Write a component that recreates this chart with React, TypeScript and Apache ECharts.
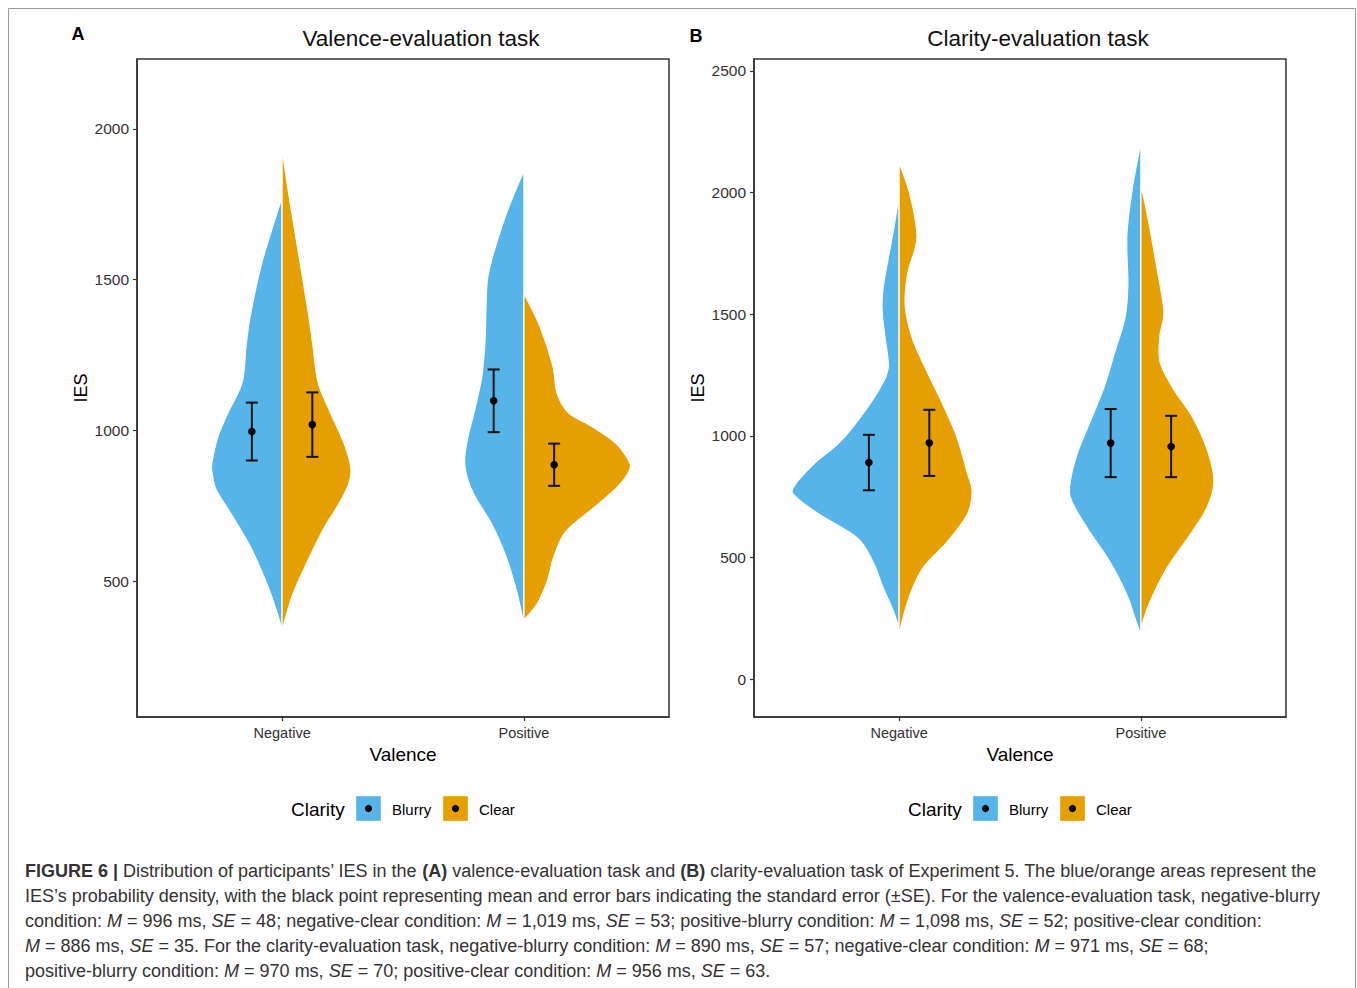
import React, { useEffect, useRef } from "react";
import * as echarts from "echarts";

const valenceCats = ["Negative", "Positive"];
const clarityLevels = ["Blurry", "Clear"];
const panelTitles = ["Valence-evaluation task", "Clarity-evaluation task"];
const panelLetters = ["A", "B"];
const yTicksA = [500, 1000, 1500, 2000];
const yTicksB = [0, 500, 1000, 1500, 2000, 2500];

// Density profiles: [IES value, half-width in category units], top to bottom
const aNegBlurry = [[1773, 0], [1558, 0.083], [1378, 0.132], [1279, 0.149], [1159, 0.165], [1060, 0.223], [980, 0.265], [894, 0.29], [861, 0.29], [804, 0.273], [728, 0.215], [615, 0.132], [505, 0.07], [416, 0.029], [340, 0]];
const aNegClear = [[1933, 0], [1777, 0.029], [1558, 0.074], [1392, 0.108], [1279, 0.128], [1159, 0.149], [1060, 0.199], [947, 0.261], [861, 0.285], [781, 0.252], [671, 0.17], [562, 0.103], [449, 0.041], [335, 0]];
const aPosBlurry = [[1861, 0], [1733, 0.066], [1624, 0.112], [1511, 0.149], [1402, 0.157], [1292, 0.161], [1179, 0.174], [1070, 0.203], [960, 0.236], [881, 0.244], [794, 0.211], [681, 0.128], [572, 0.07], [462, 0.029], [355, 0]];
const aPosClear = [[1455, 0], [1345, 0.066], [1212, 0.12], [1126, 0.136], [1060, 0.182], [1013, 0.281], [960, 0.376], [904, 0.43], [871, 0.438], [814, 0.389], [738, 0.281], [661, 0.17], [572, 0.12], [505, 0.099], [429, 0.058], [370, 0]];

const bNegBlurry = [[1984, 0], [1814, 0.029], [1609, 0.066], [1510, 0.07], [1403, 0.058], [1280, 0.045], [1197, 0.079], [1086, 0.153], [975, 0.244], [881, 0.356], [786, 0.438], [745, 0.422], [675, 0.327], [581, 0.174], [482, 0.108], [375, 0.066], [293, 0.029], [211, 0]];
const bNegClear = [[2123, 0], [1991, 0.045], [1814, 0.074], [1674, 0.037], [1539, 0.025], [1403, 0.054], [1263, 0.116], [1127, 0.182], [992, 0.24], [852, 0.281], [770, 0.302], [675, 0.281], [564, 0.199], [457, 0.099], [346, 0.045], [235, 0.012], [169, 0]];
const bPosBlurry = [[2205, 0], [2032, 0.033], [1826, 0.058], [1621, 0.054], [1485, 0.066], [1345, 0.108], [1210, 0.149], [1074, 0.203], [934, 0.261], [799, 0.294], [729, 0.285], [622, 0.223], [482, 0.128], [346, 0.058], [252, 0.025], [182, 0]];
const bPosClear = [[2032, 0], [1896, 0.029], [1691, 0.066], [1510, 0.095], [1415, 0.079], [1304, 0.079], [1197, 0.132], [1074, 0.215], [934, 0.277], [811, 0.302], [704, 0.273], [593, 0.203], [457, 0.108], [317, 0.037], [235, 0.008], [211, 0]];

// Means and error-bar ends; order: neg-blurry, neg-clear, pos-blurry, pos-clear
const aMeans = [996, 1019, 1098, 886];
const aLow = [900, 912, 994, 816];
const aHigh = [1092, 1126, 1202, 956];
const bMeans = [890, 971, 970, 956];
const bLow = [776, 835, 830, 830];
const bHigh = [1004, 1107, 1110, 1082];

const captionLines = [
  "{b|FIGURE 6 |}{n| Distribution of participants’ IES in the }{b|(A)}{n| valence-evaluation task and }{b|(B)}{n| clarity-evaluation task of Experiment 5. The blue/orange areas represent the}",
  "{n|IES’s probability density, with the black point representing mean and error bars indicating the standard error (±SE). For the valence-evaluation task, negative-blurry}",
  "{n|condition: }{i|M}{n| = 996 ms, }{i|SE}{n| = 48; negative-clear condition: }{i|M}{n| = 1,019 ms, }{i|SE}{n| = 53; positive-blurry condition: }{i|M}{n| = 1,098 ms, }{i|SE}{n| = 52; positive-clear condition:}",
  "{i|M}{n| = 886 ms, }{i|SE}{n| = 35. For the clarity-evaluation task, negative-blurry condition: }{i|M}{n| = 890 ms, }{i|SE}{n| = 57; negative-clear condition: }{i|M}{n| = 971 ms, }{i|SE}{n| = 68;}",
  "{n|positive-blurry condition: }{i|M}{n| = 970 ms, }{i|SE}{n| = 70; positive-clear condition: }{i|M}{n| = 956 ms, }{i|SE}{n| = 63.}",
];

const BLUE = "#56B4E9";
const ORANGE = "#E69F00";
const FONT = "'Liberation Sans', Arial, Helvetica, sans-serif";
const DODGE = 0.125;
const CAP_FS = 18;

function violin(name: string, profile: number[][], cat: number, side: number, color: string, idx: number) {
  return {
    type: "custom",
    name,
    xAxisIndex: idx,
    yAxisIndex: idx,
    silent: true,
    data: [[cat, profile[0][0]]],
    renderItem: (_params: any, api: any) => {
      const pts = profile.map(([v, w]) => api.coord([cat + side * w, v]));
      const n = pts.length;
      let d = `M${pts[0][0]},${pts[0][1]}`;
      for (let i = 0; i < n - 1; i++) {
        const p0 = pts[Math.max(i - 1, 0)];
        const p1 = pts[i];
        const p2 = pts[i + 1];
        const p3 = pts[Math.min(i + 2, n - 1)];
        const c1x = p1[0] + (p2[0] - p0[0]) / 6;
        const c1y = p1[1] + (p2[1] - p0[1]) / 6;
        const c2x = p2[0] - (p3[0] - p1[0]) / 6;
        const c2y = p2[1] - (p3[1] - p1[1]) / 6;
        d += ` C${c1x},${c1y} ${c2x},${c2y} ${p2[0]},${p2[1]}`;
      }
      const top = api.coord([cat, profile[0][0]]);
      d += ` L${top[0]},${top[1]} Z`;
      return {
        type: "path",
        shape: { pathData: d },
        style: { fill: color, stroke: "#ffffff", lineWidth: 1.2 },
      };
    },
  };
}

function errorBars(means: number[], low: number[], high: number[], idx: number) {
  const xs = [1 - DODGE, 1 + DODGE, 2 - DODGE, 2 + DODGE];
  return {
    type: "custom",
    name: "Mean ± SE",
    xAxisIndex: idx,
    yAxisIndex: idx,
    silent: true,
    z: 10,
    encode: { x: 0, y: 1 },
    data: means.map((m, i) => [xs[i], m, low[i], high[i]]),
    renderItem: (_params: any, api: any) => {
      const x = api.value(0);
      const pm = api.coord([x, api.value(1)]);
      const pl = api.coord([x, api.value(2)]);
      const ph = api.coord([x, api.value(3)]);
      const ls = { stroke: "#111", lineWidth: 2 };
      return {
        type: "group",
        children: [
          { type: "line", shape: { x1: pl[0], y1: pl[1], x2: ph[0], y2: ph[1] }, style: ls },
          { type: "line", shape: { x1: pl[0] - 6, y1: pl[1], x2: pl[0] + 6, y2: pl[1] }, style: ls },
          { type: "line", shape: { x1: ph[0] - 6, y1: ph[1], x2: ph[0] + 6, y2: ph[1] }, style: ls },
          { type: "circle", shape: { cx: pm[0], cy: pm[1], r: 3.8 }, style: { fill: "#000" } },
        ],
      };
    },
  };
}

const gridLefts = [137, 754];

function makeAxes() {
  const xAxis: any[] = [];
  const yAxis: any[] = [];
  const yConf = [
    { min: 49, max: 2232, ticks: yTicksA },
    { min: -156, max: 2549, ticks: yTicksB },
  ];
  for (let i = 0; i < 2; i++) {
    xAxis.push({
      type: "value",
      gridIndex: i,
      min: 0.4,
      max: 2.6,
      splitLine: { show: false },
      axisLine: { show: true, onZero: false, lineStyle: { color: "#333", width: 1.5 } },
      axisTick: { show: true, customValues: [1, 2], length: 4, lineStyle: { color: "#333", width: 1.2 } },
      axisLabel: {
        customValues: [1, 2],
        formatter: (v: number) => valenceCats[Math.round(v) - 1] ?? "",
        fontSize: 14.5,
        color: "#333",
        margin: 8,
        fontFamily: FONT,
      },
      name: "Valence",
      nameLocation: "middle",
      nameGap: 28,
      nameTextStyle: { fontSize: 19, color: "#000", fontFamily: FONT },
    });
    yAxis.push({
      type: "value",
      gridIndex: i,
      min: yConf[i].min,
      max: yConf[i].max,
      splitLine: { show: false },
      axisLine: { show: true, onZero: false, lineStyle: { color: "#333", width: 1.5 } },
      axisTick: { show: true, customValues: yConf[i].ticks, length: 4, lineStyle: { color: "#333", width: 1.2 } },
      axisLabel: {
        customValues: yConf[i].ticks,
        formatter: (v: number) => String(Math.round(v)),
        fontSize: 15.5,
        color: "#333",
        margin: 8,
        fontFamily: FONT,
      },
      name: "IES",
      nameLocation: "middle",
      nameGap: 47,
      nameRotate: 90,
      nameTextStyle: { fontSize: 18, color: "#000", fontFamily: FONT },
    });
  }
  return { xAxis, yAxis };
}

function legendGraphics(ox: number) {
  const colors = [BLUE, ORANGE];
  const boxX = [356, 443];
  const labelX = [392, 479];
  const items: any[] = [
    {
      type: "text",
      x: 291 + ox,
      y: 809,
      style: { text: "Clarity", fontSize: 19, fontFamily: FONT, fill: "#000", align: "left", verticalAlign: "middle" },
    },
  ];
  clarityLevels.forEach((lv, i) => {
    items.push({
      type: "rect",
      shape: { x: boxX[i] + ox, y: 796, width: 25, height: 25 },
      style: { fill: colors[i], stroke: "rgba(255,255,255,0.35)", lineWidth: 1 },
    });
    items.push({
      type: "circle",
      shape: { cx: boxX[i] + ox + 12.5, cy: 808.5, r: 3.6 },
      style: { fill: "#000" },
    });
    items.push({
      type: "text",
      x: labelX[i] + ox,
      y: 809,
      style: { text: lv, fontSize: 15, fontFamily: FONT, fill: "#000", align: "left", verticalAlign: "middle" },
    });
  });
  return items;
}

export default function App() {
  const ref = useRef<HTMLDivElement>(null);
  useEffect(() => {
    if (!ref.current) return;
    const chart = echarts.init(ref.current, null, { renderer: "svg" });
    const { xAxis, yAxis } = makeAxes();
    const rich = {
      n: { fontSize: CAP_FS, fontFamily: FONT, fill: "#333", color: "#333" },
      b: { fontSize: CAP_FS, fontFamily: FONT, fontWeight: "bold", fill: "#333", color: "#333" },
      i: { fontSize: CAP_FS, fontFamily: FONT, fontStyle: "italic", fill: "#333", color: "#333" },
    };
    const graphic: any[] = [
      {
        type: "rect",
        silent: true,
        shape: { x: 8.5, y: 8.5, width: 1347, height: 1000 },
        style: { fill: "none", stroke: "#9a9a9a", lineWidth: 1 },
      },
      ...panelLetters.map((t, i) => ({
        type: "text",
        x: [78, 696][i],
        y: [34, 36][i],
        style: { text: t, fontSize: 18, fontWeight: "bold", fontFamily: FONT, fill: "#000", align: "center", verticalAlign: "middle" },
      })),
      ...panelTitles.map((t, i) => ({
        type: "text",
        x: [421, 1038][i],
        y: 38,
        style: { text: t, fontSize: 22.5, fontFamily: FONT, fill: "#111", align: "center", verticalAlign: "middle" },
      })),
      ...legendGraphics(0),
      ...legendGraphics(617),
      ...captionLines.map((line, i) => ({
        type: "text",
        x: 25,
        y: 871 + i * 25,
        style: { text: line, rich, fontSize: CAP_FS, fontFamily: FONT, fill: "#333", align: "left", verticalAlign: "middle" },
      })),
    ];
    const option: any = {
      animation: false,
      backgroundColor: "#ffffff",
      grid: gridLefts.map((l) => ({
        left: l,
        top: 59,
        width: 532,
        height: 658,
        show: true,
        borderColor: "#333",
        borderWidth: 1.5,
        backgroundColor: "transparent",
        outerBoundsMode: "none",
      })),
      xAxis,
      yAxis,
      graphic,
      series: [
        violin("Blurry", aNegBlurry, 1, -1, BLUE, 0),
        violin("Clear", aNegClear, 1, 1, ORANGE, 0),
        violin("Blurry", aPosBlurry, 2, -1, BLUE, 0),
        violin("Clear", aPosClear, 2, 1, ORANGE, 0),
        errorBars(aMeans, aLow, aHigh, 0),
        violin("Blurry", bNegBlurry, 1, -1, BLUE, 1),
        violin("Clear", bNegClear, 1, 1, ORANGE, 1),
        violin("Blurry", bPosBlurry, 2, -1, BLUE, 1),
        violin("Clear", bPosClear, 2, 1, ORANGE, 1),
        errorBars(bMeans, bLow, bHigh, 1),
      ],
    };
    chart.setOption(option);
    return () => chart.dispose();
  }, []);
  return (
    <div
      ref={ref}
      style={{ position: "absolute", left: 0, top: 0, width: 1357, height: 988, background: "#fff" }}
    />
  );
}
